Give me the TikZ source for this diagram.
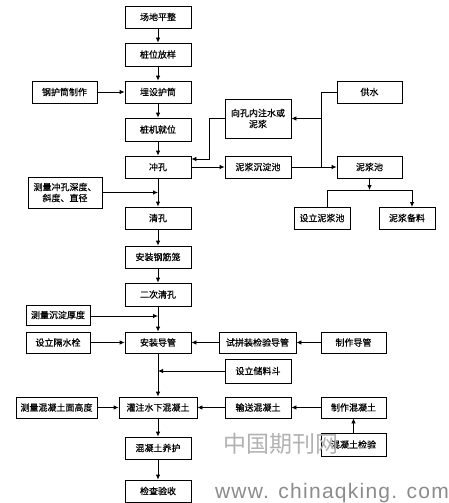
\documentclass[tikz,border=0pt]{standalone}
\usepackage{fontspec}
\newfontfamily\cjk{Noto Sans CJK SC}
\newfontfamily\cjkb[FakeBold=0.5]{Noto Sans CJK SC}
\newfontfamily\wmfont[LetterSpace=6]{Liberation Sans}
\usetikzlibrary{arrows.meta}
\begin{document}
\begin{tikzpicture}[x=1pt,y=-1pt,
 box/.style={draw, line width=0.8pt, inner sep=0pt, font=\cjkb\fontsize{9}{11}\selectfont, align=center, minimum width=66pt, minimum height=22pt},
 arr/.style={line width=0.8pt, -{Latex[length=5pt,width=4.5pt]}},
 ln/.style={line width=0.8pt}]
\useasboundingbox (0,0) rectangle (448,503);
\fill[white] (0,0) rectangle (448,503);
% main column
\node[box] (a) at (158,17) {场地平整};
\node[box,minimum height=23pt] (b) at (158,54.5) {桩位放样};
\node[box] (c) at (158,92) {埋设护筒};
\node[box,minimum width=65pt] (d) at (64.5,92) {钢护筒制作};
\node[box,minimum height=23pt] (e) at (158,129.5) {桩机就位};
\node[box,minimum height=39pt] (f) at (258,118.5) {向孔内注水或\\泥浆};
\node[box,minimum width=65pt] (g) at (369.5,92) {供水};
\node[box] (h) at (158,167) {冲孔};
\node[box] (i) at (258,167) {泥浆沉淀池};
\node[box,minimum width=65pt] (j) at (369.5,167) {泥浆池};
\node[box,minimum width=74pt,minimum height=31pt] (k) at (65,192.5) {测量冲孔深度、\\斜度、直径};
\node[box] (l) at (158,218) {清孔};
\node[box,minimum width=56pt] (m) at (322,218) {设立泥浆池};
\node[box,minimum width=56pt] (n) at (407,218) {泥浆备料};
\node[box] (o) at (158,257) {安装钢筋笼};
\node[box,minimum height=23pt] (p) at (158,294.5) {二次清孔};
\node[box,minimum width=64pt,minimum height=20pt] (q) at (58,315) {测量沉淀厚度};
\node[box,minimum width=64pt,minimum height=21pt] (r) at (58,342.5) {设立隔水栓};
\node[box,minimum height=21pt] (s) at (158,342.5) {安装导管};
\node[box,minimum width=77pt,minimum height=21pt] (t) at (257.5,342.5) {试拼装检验导管};
\node[box,minimum width=65pt,minimum height=21pt] (u) at (353.5,342.5) {制作导管};
\node[box,minimum height=24pt] (v) at (258,371) {设立储料斗};
\node[box,minimum width=81pt,minimum height=21pt] (w) at (56.5,407.5) {测量混凝土面高度};
\node[box,minimum width=78pt,minimum height=21pt] (x) at (158,407.5) {灌注水下混凝土};
\node[box,minimum height=21pt] (y) at (258,407.5) {输送混凝土};
\node[box,minimum width=65pt,minimum height=21pt] (z) at (353.5,407.5) {制作混凝土};
\node[box] (aa) at (158,448) {混凝土养护};
\node[box,minimum width=65pt,minimum height=23pt] (bb) at (353.5,444.5) {混凝土检验};
\node[box] (cc) at (158,491) {检查验收};
% watermark
\node[text=black!30, font=\cjk\fontsize{23}{23}\selectfont, inner sep=0pt] (wm1) at (281,444) {中国期刊网};
\node[text=black!45, font=\wmfont\fontsize{21}{21}\selectfont, inner sep=0pt, anchor=base] (wm2) at (332,498) {www. chinaqking. com};
% vertical chain
\draw[arr] (a) -- (b);
\draw[arr] (b) -- (c);
\draw[arr] (c) -- (e);
\draw[arr] (e) -- (h);
\draw[arr] (h) -- (l);
\draw[arr] (l) -- (o);
\draw[arr] (o) -- (p);
\draw[arr] (p) -- (s);
\draw[arr] (s) -- (x);
\draw[arr] (x) -- (aa);
\draw[arr] (aa) -- (cc);
% side inputs
\draw[arr] (d) -- (c);
\coordinate (kj) at (158,192.5);
\draw[arr] (k.east) -- (kj);
\coordinate (qj) at (158,316);
\draw[arr] (q.east |- qj) -- (qj);
\draw[arr] (r) -- (s);
\draw[arr] (t) -- (s);
\draw[arr] (u) -- (t);
\coordinate (vj) at (158,371);
\draw[arr] (v.west) -- (vj);
\draw[arr] (w) -- (x);
\draw[arr] (y) -- (x);
\draw[arr] (z) -- (y);
\draw[arr] (bb) -- (z);
% mud circuit
\draw[arr] (f.west) -| (209,159) -- (h.east |- 0,159);
\coordinate (gj) at (321,118.5);
\draw[ln] (g.west) -| (321,167);
\draw[arr] (gj) -- (f.east);
\draw[arr] (h) -- (i);
\draw[arr] (i) -- (j);
\coordinate (jj) at (369.5,190);
\draw[arr] (j) -- (jj);
\draw[ln] (327,190) -- (412,190);
\draw[ln] (327,190) -- (327,207);
\draw[arr] (412,190) -- (412,207);
\end{tikzpicture}
\end{document}
